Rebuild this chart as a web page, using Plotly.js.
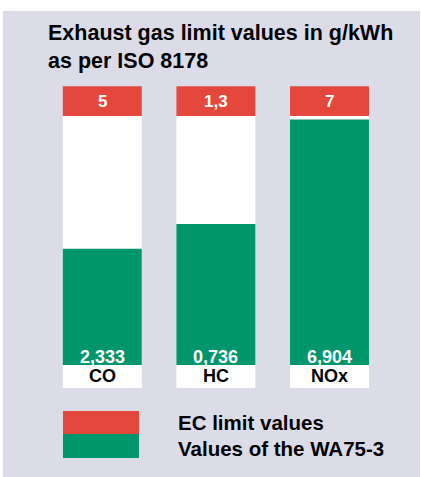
<!DOCTYPE html>
<html>
<head>
<meta charset="utf-8">
<script src="https://cdn.plot.ly/plotly-3.0.1.min.js"></script>
<style>html,body{margin:0;padding:0;background:#fff;}#chart{width:421px;height:477px;}</style>
</head>
<body>
<div id="chart"></div>
<script>
// ---- data ----
var categories = ["CO", "HC", "NOx"];
var ecLimitValues = [5, 1.3, 7];            // g/kWh
var ecLimitLabels = ["5", "1,3", "7"];
var wa75Values = [2.333, 0.736, 6.904];     // g/kWh
var wa75Labels = ["2,333", "0,736", "6,904"];
var titleText = "Exhaust gas limit values in g/kWh<br>as per ISO 8178";
var legendLabels = ["EC limit values", "Values of the WA75-3"];

// ---- styling ----
var RED = "#e4473b", GREEN = "#00966c", PANEL = "#dcdce8";
var W = 421, H = 477;
var FONT = "Liberation Sans, Arial, sans-serif";
var CAP = 0.12;      // height of red limit cap (fraction of limit)
var LBL = 0.092;     // height of category label box
function py(p) { return 1 - p / H; }
function px(p) { return p / W; }

var share = wa75Values.map(function (v, i) { return v / ecLimitValues[i]; });
var full = ecLimitValues.map(function (v) { return v / v; });

var traces = [
  { type: "bar", x: categories, y: full, base: 0, marker: { color: "#ffffff" }, hoverinfo: "skip", showlegend: false },
  { type: "bar", x: categories, y: share, base: 0, marker: { color: GREEN }, name: legendLabels[1], showlegend: false },
  { type: "bar", x: categories, y: full.map(function () { return CAP; }), base: full, marker: { color: RED }, name: legendLabels[0], showlegend: false },
  { type: "bar", x: categories, y: full.map(function () { return LBL; }), base: full.map(function () { return -LBL; }), marker: { color: "#ffffff" }, hoverinfo: "skip", showlegend: false }
];

var annotations = [];
categories.forEach(function (c, i) {
  annotations.push({ x: c, y: 1 + CAP / 2, xref: "x", yref: "y", text: "<b>" + ecLimitLabels[i] + "</b>", showarrow: false,
    font: { family: FONT, size: 17, color: "#ffffff" }, yanchor: "middle" });
  annotations.push({ x: c, y: 0, xref: "x", yref: "y", text: "<b>" + wa75Labels[i] + "</b>", showarrow: false,
    font: { family: FONT, size: 18, color: "#ffffff" }, yanchor: "bottom", yshift: -4 });
  annotations.push({ x: c, y: -LBL / 2, xref: "x", yref: "y", text: "<b>" + c + "</b>", showarrow: false,
    font: { family: FONT, size: 18, color: "#000000" }, yanchor: "middle" });
});
annotations.push({ x: px(176), y: py(422), xref: "paper", yref: "paper", xanchor: "left", yanchor: "middle",
  text: "<b>" + legendLabels[0] + "</b>", showarrow: false, font: { family: FONT, size: 20.5, color: "#000" } });
annotations.push({ x: px(176), y: py(448), xref: "paper", yref: "paper", xanchor: "left", yanchor: "middle",
  text: "<b>" + legendLabels[1] + "</b>", showarrow: false, font: { family: FONT, size: 20.5, color: "#000" } });

var shapes = [
  { type: "rect", xref: "paper", yref: "paper", x0: px(3), x1: px(420), y0: 0, y1: py(11), fillcolor: PANEL, line: { width: 0 }, layer: "below" },
  { type: "rect", xref: "paper", yref: "paper", x0: px(63), x1: px(139), y0: py(434), y1: py(411), fillcolor: RED, line: { width: 0 } },
  { type: "rect", xref: "paper", yref: "paper", x0: px(63), x1: px(139), y0: py(458), y1: py(434), fillcolor: GREEN, line: { width: 0 } }
];

var layout = {
  width: W, height: H, autosize: false,
  margin: { l: 0, r: 0, t: 0, b: 0, pad: 0 },
  paper_bgcolor: "#ffffff", plot_bgcolor: "rgba(0,0,0,0)",
  title: { text: "<b>" + titleText + "</b>", x: px(48), xanchor: "left", y: py(40), yanchor: "top", yref: "container",
    font: { family: FONT, size: 21.5, color: "#000" } },
  barmode: "overlay", bargap: 0.305,
  xaxis: { type: "category", range: [-0.5, 2.5], domain: [px(45.5), px(386.3)], visible: false, fixedrange: true },
  yaxis: { range: [-0.4498, 1.4659], domain: [0, 1], visible: false, fixedrange: true },
  showlegend: false,
  shapes: shapes, annotations: annotations
};

Plotly.newPlot("chart", traces, layout, { displayModeBar: false, staticPlot: true });
</script>
</body>
</html>
